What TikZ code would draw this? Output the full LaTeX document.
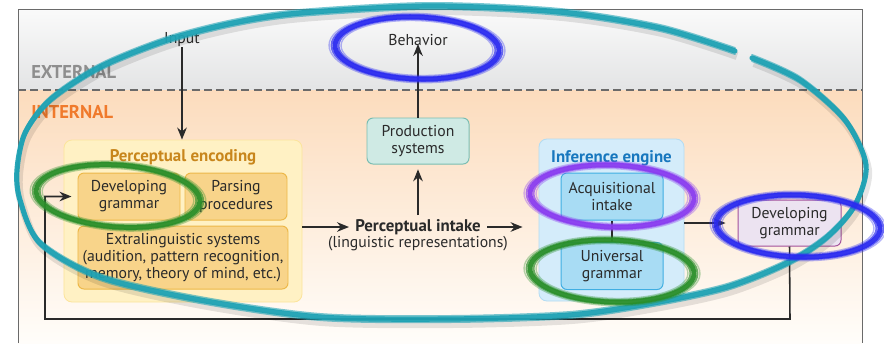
\documentclass[tikz,border=0pt]{standalone}
\usepackage{fontspec}
\setmainfont{PT Sans}
\usepackage{xcolor}
\usepackage{tikz}
\usetikzlibrary{positioning,calc,arrows.meta}

\definecolor{extTop}{HTML}{FAFAFA}
\definecolor{extBot}{HTML}{E3E4E5}
\definecolor{intTop}{HTML}{FCDCBD}
\definecolor{intBot}{HTML}{FFFDFA}
\definecolor{frameGray}{HTML}{6A6A6A}
\definecolor{extGray}{HTML}{8E8E8E}
\definecolor{intOrange}{HTML}{F07A2C}
\definecolor{encFill}{HTML}{FFF1C4}
\definecolor{encLine}{HTML}{FCE49C}
\definecolor{encTitle}{HTML}{C8861C}
\definecolor{subFill}{HTML}{F8D48A}
\definecolor{subLine}{HTML}{EDB848}
\definecolor{prodFill}{HTML}{CFEAE4}
\definecolor{prodLine}{HTML}{79BDB2}
\definecolor{engFill}{HTML}{D4ECFA}
\definecolor{engLine}{HTML}{B3DCF3}
\definecolor{engTitle}{HTML}{1777BE}
\definecolor{acqFill}{HTML}{A8DCF4}
\definecolor{acqLine}{HTML}{40AEE2}
\definecolor{devFill}{HTML}{ECE3F1}
\definecolor{devLine}{HTML}{A3509A}
\definecolor{ink}{HTML}{2A2A2A}
\definecolor{brushTeal}{HTML}{1EA2B4}
\definecolor{brushBlue}{HTML}{2B2BF0}
\definecolor{brushPurple}{HTML}{8A3CF0}
\definecolor{brushGreen}{HTML}{2A8F2A}

\newcommand{\bodysize}{\fontsize{11.2}{12.2}\selectfont}
\newcommand{\titlesize}{\fontsize{12}{13}\selectfont}

\tikzset{
  arr/.style={-{Stealth[length=3mm,width=2.4mm]}, line width=1.1pt, draw=ink},
  plain/.style={line width=1.1pt, draw=ink},
  zonelabel/.style={font=\fontsize{13.2}{15}\selectfont\bfseries, anchor=west, inner sep=0pt},
  boxtext/.style={align=center, text=ink, inner sep=0pt, font=\bodysize},
  boxtitle/.style={font=\titlesize\bfseries, inner sep=0pt},
  encbox/.style={draw=encLine, fill=encFill, rounded corners=2mm, line width=0.6pt,
    minimum width=59.5mm, minimum height=40.5mm},
  subbox/.style={boxtext, draw=subLine, fill=subFill, rounded corners=1.5mm, line width=0.7pt,
    minimum width=25.5mm, minimum height=11.75mm},
  prodbox/.style={boxtext, draw=prodLine, fill=prodFill, rounded corners=1.5mm, line width=0.7pt,
    minimum width=25.5mm, minimum height=11.5mm},
  engbox/.style={draw=engLine, fill=engFill, rounded corners=2mm, line width=0.6pt,
    minimum width=36.25mm, minimum height=40.5mm},
  acqbox/.style={boxtext, draw=acqLine, fill=acqFill, rounded corners=1.5mm, line width=0.7pt,
    minimum width=25.5mm, minimum height=11.75mm},
  devbox/.style={boxtext, draw=devLine, fill=devFill, rounded corners=1.5mm, line width=0.7pt,
    minimum width=25.75mm, minimum height=11.5mm},
}

% brush ring: colour, centre x, centre y, x radius, y radius, tilt
\newcommand{\brushring}[6]{%
  \foreach \dr/\op/\lw in {0/0.95/1.2, 3.5/0.7/0.5, -3.5/0.7/0.5, 6/0.35/0.35, -6/0.35/0.35}
    \draw[#1, line width=\lw mm, opacity=\op, rotate around={#6:(#2,#3)}]
      (#2,#3) ellipse [x radius=#4+\dr, y radius=#5+0.6*\dr];
}

\begin{document}
\begin{tikzpicture}[x=0.25mm,y=-0.25mm]
  \useasboundingbox (0,0) rectangle (884,343);
  \fill[white] (0,0) rectangle (884,343);

  % Bands
  \shade[top color=extTop, bottom color=extBot] (18,9) rectangle (862,90);
  \shade[top color=intTop, bottom color=intBot] (18,90) rectangle (862,343);
  \draw[frameGray, line width=0.9pt, dash pattern=on 2mm off 1.1mm] (18,90) -- (862,90);
  \draw[frameGray, line width=0.6pt] (18,343) -- (18,9) -- (862,9) -- (862,343);

  \node[zonelabel, text=extGray] (ext) at (31,72) {EXTERNAL};
  \node[zonelabel, text=intOrange] (int) at (31,112) {INTERNAL};

  % Perceptual encoding
  \node[encbox] (enc) at (183,221) {};
  \node[boxtitle, text=encTitle] (enctitle) at (183,157) {Perceptual encoding};
  \node[subbox] (devL) at (129,196.5) {Developing\\grammar};
  \node[subbox] (parse) at (236,196.5) {Parsing\\procedures};
  \node[subbox, minimum width=52.5mm, minimum height=15.75mm] (extra) at (183,257.5)
    {Extralinguistic systems\\(audition, pattern recognition,\\memory, theory of mind, etc.)};

  % Intake, production, behavior
  \node[boxtext, boxtitle] (intake) at (418,227) {Perceptual intake};
  \node[boxtext] (intakesub) at (418,244) {(linguistic representations)};
  \node[prodbox] (prod) at (418,141) {Production\\systems};
  \node[boxtext] (behav) at (418,40) {Behavior};
  \node[boxtext] (input) at (182,40) {Input};

  % Inference engine
  \node[engbox] (eng) at (611.5,220) {};
  \node[boxtitle, text=engTitle] (engtitle) at (611.5,158) {Inference engine};
  \node[acqbox] (acq) at (612,196.5) {Acquisitional\\intake};
  \node[acqbox] (ug) at (612,266) {Universal\\grammar};
  \node[devbox] (devR) at (789.5,223) {Developing\\grammar};

  % Connectors
  \coordinate (fbR) at (790,319);
  \coordinate (fbL) at (45,319);
  \draw[arr] (input.south) -- (input.south |- enc.north);
  \draw[arr, shorten >=1.5mm] (enc.east |- intake) -- (intake.west);
  \draw[arr, shorten <=1.5mm, shorten >=4mm] (intake.east) -- (eng.west |- intake);
  \draw[arr, shorten <=1mm, shorten >=1.2mm] (intake.north) -- (prod.south);
  \draw[arr] (prod.north) -- ($(behav.south)+(0,-2)$);
  \draw[plain] (acq.south) -- (ug.north);
  \draw[arr, shorten >=3mm] (eng.east |- devR.west) -- (devR.west);
  \draw[arr, shorten >=1.5mm] (devR.south) -- (fbR) -- (fbL) |- (devL.west);

  % Hand-drawn rings
  \draw[black, opacity=0.10, line width=2mm, shift={(2,5)}] plot[smooth] coordinates {
    (752,58) (800,80) (845,120) (866,165) (855,205) (827,237) (787,263) (727,287)
    (653,303) (570,315) (450,319) (320,317) (200,300) (100,277) (40,243) (20,200)
    (17,170) (25,133) (50,100) (100,67) (167,40) (233,23) (300,13) (430,6) (560,12)
    (660,28) (735,51)};
  \foreach \dy/\op/\lw in {0/0.95/1.3, 3/0.6/0.5, -3/0.6/0.5}
    \draw[brushTeal, line width=\lw mm, opacity=\op, line cap=round, shift={(0,\dy)}]
      plot[smooth] coordinates {
      (752,58) (800,80) (845,120) (866,165) (855,205) (827,237) (787,263) (727,287)
      (653,303) (570,315) (450,319) (320,317) (200,300) (100,277) (40,243) (20,200)
      (17,170) (25,133) (50,100) (100,67) (167,40) (233,23) (300,13) (430,6) (560,12)
      (660,28) (735,51)};

  \brushring{brushBlue}{417}{48}{82}{31}{-2}
  \brushring{brushGreen}{118}{196}{82}{31}{-4}
  \brushring{brushPurple}{612}{196}{82}{31}{-2}
  \brushring{brushGreen}{612}{271}{82}{31}{-2}
  \brushring{brushBlue}{798}{226}{82}{31}{-2}
\end{tikzpicture}
\end{document}
